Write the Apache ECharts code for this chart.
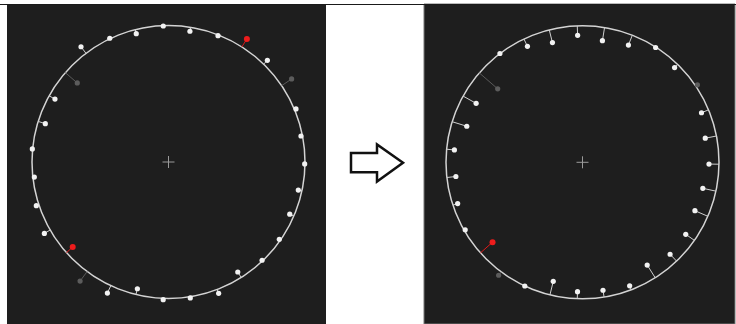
<!DOCTYPE html>
<html>
<head>
<meta charset="utf-8">
<script src="https://cdn.jsdelivr.net/npm/echarts@6/dist/echarts.min.js"></script>
<style>
  html, body { margin: 0; padding: 0; background: #ffffff; }
  #chart { width: 736px; height: 324px; }
</style>
</head>
<body>
<div id="chart"></div>
<script>
// nominal circle radius (same units as the measured radii)
const nominal = 136.5;

// pin angles in degrees, counter-clockwise from east
const angles = [92.2, 80.7, 68.6, 57.5, 45.8, 34.0, 22.6, 11.1, 359.2, 347.8, 336.7,
  325.1, 313.6, 302.2, 290.9, 279.1, 267.8, 256.2, 245.0, 233.4, 221.6, 209.9,
  198.3, 186.4, 174.5, 162.7, 151.0, 139.1, 127.2, 115.4, 104.1];

// measured radius of each pin, before and after
const beforeRadius = [136.1, 132.5, 135.7, 145.9, 141.8, 148.5, 138.1, 135.0, 136.2, 132.8, 132.0,
  135.1, 135.7, 130.0, 140.6, 137.7, 137.8, 130.5, 144.6, 148.3, 128.1, 143.2,
  139.2, 135.0, 136.8, 129.0, 129.8, 120.7, 144.7, 137.0, 132.3];
const afterRadius = [127.1, 123.2, 125.9, 136.1, 132.1, 138.6, 128.9, 125.1, 126.5, 123.1, 122.4,
  125.9, 127.0, 121.4, 132.2, 129.6, 129.5, 122.6, 136.5, 140.7, 120.3, 135.3,
  131.5, 127.4, 128.7, 121.2, 121.6, 112.2, 136.6, 128.4, 123.4];

// 0 = normal, 1 = out of tolerance, 2 = ignored
const beforeFlags = [0, 0, 0, 1, 0, 2, 0, 0, 0, 0, 0, 0, 0, 0, 0, 0, 0, 0, 0, 2, 1, 0, 0, 0, 0, 0, 0, 2, 0, 0, 0];
const afterFlags  = [0, 0, 0, 0, 0, 2, 0, 0, 0, 0, 0, 0, 0, 0, 0, 0, 0, 0, 0, 2, 1, 0, 0, 0, 0, 0, 0, 2, 0, 0, 0];

const panelBg = '#1e1e1e';
const circleColor = '#d4d4d4';
const dotColors = ['#f2f2f2', '#ee1c1c', '#5c5c5c'];
const stemColors = ['#cfcfcf', '#e01818', '#5a5a5a'];

function pinData(radius, flags) {
  return angles.map((a, i) => [radius[i], a, flags[i]]);
}

function renderPin(params, api) {
  const r = api.value(0);
  const a = api.value(1);
  const flag = api.value(2);
  const dot = api.coord([r, a]);
  const edge = api.coord([nominal, a]);
  return {
    type: 'group',
    children: [
      {
        type: 'line',
        shape: { x1: edge[0], y1: edge[1], x2: dot[0], y2: dot[1] },
        style: { stroke: stemColors[flag], lineWidth: 1 }
      },
      {
        type: 'circle',
        shape: { cx: dot[0], cy: dot[1], r: flag === 1 ? 3 : 2.6 },
        style: { fill: dotColors[flag] }
      }
    ]
  };
}

function renderCross(params, api) {
  const c = api.coord([0, 0]);
  const s = 6;
  return {
    type: 'group',
    children: [
      { type: 'line', shape: { x1: c[0] - s, y1: c[1], x2: c[0] + s, y2: c[1] }, style: { stroke: '#9a9a9a', lineWidth: 1 } },
      { type: 'line', shape: { x1: c[0], y1: c[1] - s, x2: c[0], y2: c[1] + s }, style: { stroke: '#9a9a9a', lineWidth: 1 } }
    ]
  };
}

function angleAxis(idx) {
  return {
    polarIndex: idx,
    type: 'value',
    min: 0,
    max: 360,
    startAngle: 0,
    clockwise: false,
    axisLine: { lineStyle: { color: circleColor, width: 1.5 } },
    axisTick: { show: false },
    axisLabel: { show: false },
    splitLine: { show: false }
  };
}

function radiusAxis(idx) {
  return { polarIndex: idx, type: 'value', min: 0, max: nominal, show: false };
}

const chart = echarts.init(document.getElementById('chart'), null, { renderer: 'canvas' });

const options = {
  animation: false,
  backgroundColor: '#ffffff',
  polar: [
    { center: [168.5, 162], radius: 136.5 },
    { center: [582.5, 162.3], radius: 136.5 }
  ],
  angleAxis: [angleAxis(0), angleAxis(1)],
  radiusAxis: [radiusAxis(0), radiusAxis(1)],
  graphic: [
    { type: 'rect', z: -10, shape: { x: 7, y: 4, width: 319, height: 320 }, style: { fill: panelBg } },
    { type: 'rect', z: -10, shape: { x: 424, y: 4, width: 311, height: 320 }, style: { fill: panelBg, stroke: '#777', lineWidth: 1 } },
    { type: 'line', z: -5, shape: { x1: 0, y1: 4.5, x2: 736, y2: 4.5 }, style: { stroke: '#1a1a1a', lineWidth: 1 } },
    {
      type: 'polygon',
      shape: {
        points: [[351, 153], [377, 153], [377, 144.5], [403, 162.7], [377, 181.5], [377, 172.3], [351, 172.3]]
      },
      style: { fill: '#ffffff', stroke: '#111111', lineWidth: 2.5, lineJoin: 'miter' }
    }
  ],
  series: [
    {
      type: 'custom',
      coordinateSystem: 'polar',
      polarIndex: 0,
      clip: false,
      renderItem: renderCross,
      data: [[0, 0]]
    },
    {
      type: 'custom',
      coordinateSystem: 'polar',
      polarIndex: 1,
      clip: false,
      renderItem: renderCross,
      data: [[0, 0]]
    },
    {
      type: 'custom',
      coordinateSystem: 'polar',
      polarIndex: 0,
      clip: false,
      renderItem: renderPin,
      data: pinData(beforeRadius, beforeFlags)
    },
    {
      type: 'custom',
      coordinateSystem: 'polar',
      polarIndex: 1,
      clip: false,
      renderItem: renderPin,
      data: pinData(afterRadius, afterFlags)
    }
  ]
};

chart.setOption(options);
</script>
</body>
</html>
